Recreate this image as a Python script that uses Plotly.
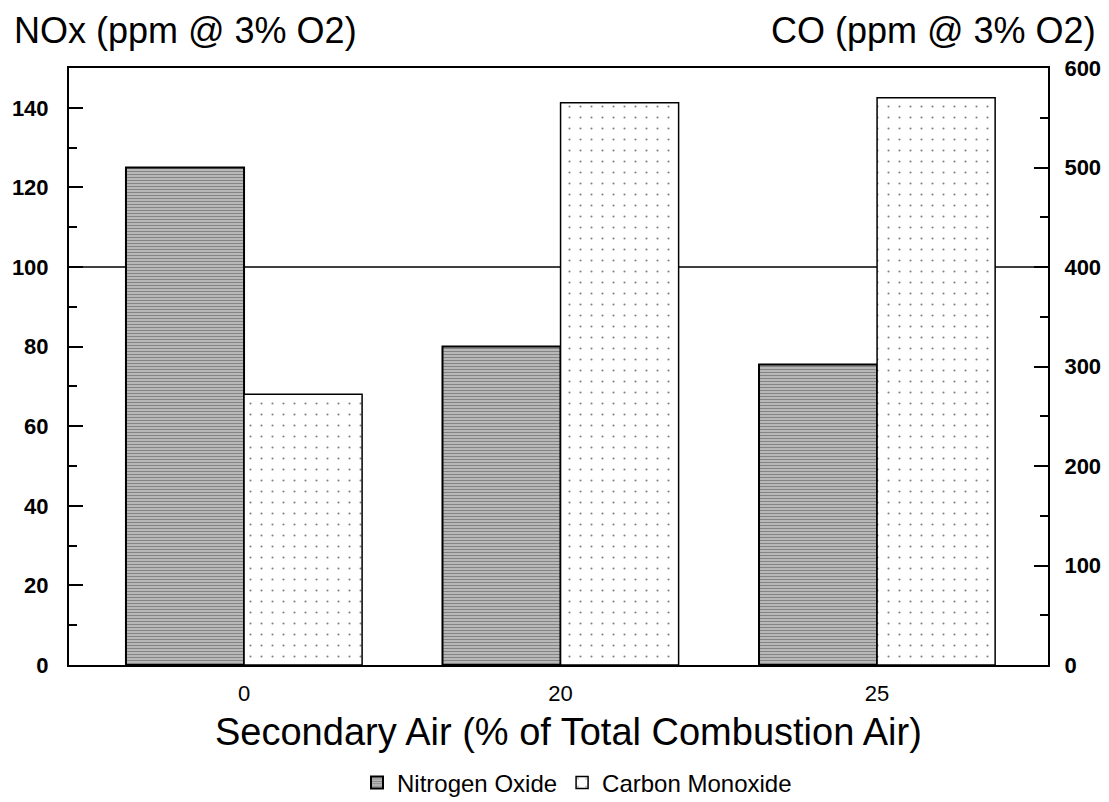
import plotly.graph_objects as go

categories = ["0", "20", "25"]
nox_values = [125, 80, 75.5]
co_values = [272, 565, 570]
left_ticks = [0, 20, 40, 60, 80, 100, 120, 140]
right_ticks = [0, 100, 200, 300, 400, 500, 600]
ref_line_nox = 100

FONT = "Liberation Sans, Arial, sans-serif"
W = 0.373
OFF = 8  # page body margin offset
FW, FH = 1109 - OFF, 802 - OFF
# desired plot box in screenshot pixels: x 69..1048, y 68..665
L = 69 - OFF
T = 68 - OFF
R = FW - (1048 - OFF)
B = FH - (665 - OFF)
PW, PH = FW - L - R, FH - T - B

def px_x(x):
    return (x - OFF - L) / PW

def px_y(y):
    return (FH - B - (y - OFF)) / PH

fig = go.Figure()
fig.add_trace(go.Bar(
    x=categories, y=nox_values, name="Nitrogen Oxide", yaxis="y",
    width=W, offset=-W,
    marker=dict(color="white", line=dict(color="black", width=2),
                pattern=dict(shape="-", fgcolor="#0a0a0a", bgcolor="white",
                             size=3, solidity=0.72)),
))
fig.add_trace(go.Bar(
    x=categories, y=co_values, name="Carbon Monoxide", yaxis="y2",
    width=W, offset=0,
    marker=dict(color="white", line=dict(color="black", width=1.5),
                pattern=dict(shape=".", fgcolor="black", bgcolor="white",
                             size=11, solidity=0.03)),
))

fig.add_shape(type="line", xref="paper", x0=0, x1=1, yref="y",
              y0=ref_line_nox, y1=ref_line_nox,
              line=dict(color="black", width=1.5), layer="below")

fig.update_layout(
    width=FW, height=FH,
    margin=dict(l=L, r=R, t=T, b=B, autoexpand=False),
    paper_bgcolor="white", plot_bgcolor="white",
    barmode="overlay",
    font=dict(family=FONT, color="black"),
    showlegend=True,
    legend=dict(orientation="h", x=px_x(577), xanchor="center", y=px_y(783), yanchor="middle",
                font=dict(size=24, family=FONT), traceorder="normal"),
    xaxis=dict(type="category", range=[-0.553, 2.54], showline=True, linewidth=2,
               linecolor="black", mirror=True, ticks="", showgrid=False,
               automargin=False, ticklabelstandoff=8,
               tickfont=dict(size=22, family=FONT)),
    yaxis=dict(range=[0, 150], tickmode="array", tickvals=left_ticks,
               ticktext=[f"<b>{v}</b>" for v in left_ticks],
               showline=True, linewidth=2, linecolor="black", showgrid=False,
               automargin=False, ticklabelstandoff=14,
               ticks="inside", ticklen=14, tickwidth=1.5, tickcolor="black",
               minor=dict(ticks="inside", ticklen=8, dtick=10, tickcolor="black", showgrid=False),
               tickfont=dict(size=22, family=FONT), zeroline=False),
    yaxis2=dict(range=[0, 600], overlaying="y", side="right", tickmode="array",
                tickvals=right_ticks, ticktext=[f"<b>{v}</b>" for v in right_ticks],
                showline=True, linewidth=2, linecolor="black", showgrid=False,
                automargin=False, ticklabelstandoff=10,
                ticks="inside", ticklen=14, tickwidth=1.5, tickcolor="black",
                minor=dict(ticks="inside", ticklen=8, dtick=50, tickcolor="black", showgrid=False),
                tickfont=dict(size=22, family=FONT), zeroline=False),
    annotations=[
        dict(text="NOx (ppm @ 3% O2)", xref="paper", yref="paper", x=px_x(12), y=px_y(30),
             xanchor="left", yanchor="middle", showarrow=False,
             font=dict(size=36, family=FONT)),
        dict(text="CO (ppm @ 3% O2)", xref="paper", yref="paper", x=px_x(1098), y=px_y(30),
             xanchor="right", yanchor="middle", showarrow=False,
             font=dict(size=36, family=FONT)),
        dict(text="Secondary Air (% of Total Combustion Air)", xref="paper", yref="paper",
             x=px_x(568), y=px_y(732), xanchor="center", yanchor="middle", showarrow=False,
             font=dict(size=38, family=FONT)),
    ],
)

fig.write_html("out.html")
